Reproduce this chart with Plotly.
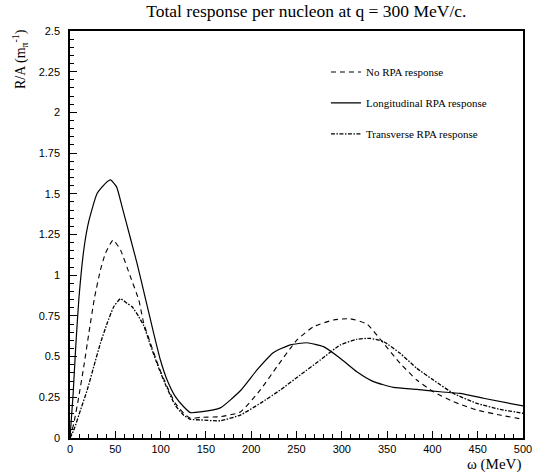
import plotly.graph_objects as go

# --- data ---
norpa_x = [0, 4.2, 9.7, 15.2, 20.8, 27, 33.6, 39.1, 47.6, 55.7, 66.7, 75.9, 81.4, 88.8, 97.9, 107.2,
           116.3, 125.5, 132.9, 143.9, 165.9, 188, 210, 228.4, 250.5, 268.8, 290.9, 309.3, 327.7,
           346, 364.4, 382.8, 401.1, 423.2, 449, 474.6, 500]
norpa_y = [0, 0.09, 0.254, 0.438, 0.643, 0.86, 1.032, 1.134, 1.216, 1.155, 0.99, 0.848, 0.705,
           0.582, 0.438, 0.315, 0.213, 0.152, 0.121, 0.127, 0.131, 0.16, 0.295, 0.438, 0.602,
           0.684, 0.725, 0.732, 0.7, 0.582, 0.459, 0.356, 0.284, 0.223, 0.172, 0.141, 0.115]

long_x = [0, 3.5, 6.1, 9.7, 15.2, 20.7, 30, 39.1, 44.7, 51.3, 57.5, 66.7, 74, 83.2, 92.4, 99.8,
          107.2, 116.3, 125.5, 132.9, 143.9, 165.9, 188, 206.4, 224.7, 243.1, 261.5, 279.8,
          298.2, 316.6, 335, 357, 382.8, 408.5, 430.5, 456.2, 500]
long_y = [0, 0.275, 0.54, 0.848, 1.155, 1.33, 1.503, 1.564, 1.585, 1.544, 1.42, 1.227, 1.073,
          0.858, 0.643, 0.479, 0.356, 0.254, 0.192, 0.156, 0.16, 0.185, 0.29, 0.418, 0.525,
          0.572, 0.585, 0.561, 0.49, 0.407, 0.346, 0.311, 0.299, 0.284, 0.274, 0.244, 0.197]

trans_x = [0, 4.2, 11.6, 19, 26.2, 33.6, 41, 48.3, 55.7, 63, 68.6, 75.9, 81.4, 88.8, 97.9, 107.2,
           116.3, 125.5, 132.9, 143.9, 165.9, 188, 210, 232.1, 254.1, 276.2, 298.2, 316.6, 331.3,
           346, 364.4, 382.8, 401.1, 423.2, 449, 474.6, 500]
trans_y = [0, 0.049, 0.172, 0.295, 0.438, 0.582, 0.705, 0.806, 0.855, 0.827, 0.806, 0.745, 0.69,
           0.57, 0.43, 0.305, 0.2, 0.14, 0.115, 0.111, 0.106, 0.141, 0.213, 0.295, 0.387, 0.479,
           0.571, 0.606, 0.612, 0.592, 0.52, 0.428, 0.356, 0.274, 0.213, 0.176, 0.152]

names = ["No RPA response", "Longitudinal RPA response", "Transverse RPA response"]
x_ticks = [0, 50, 100, 150, 200, 250, 300, 350, 400, 450, 500]
y_ticks = [0, 0.25, 0.5, 0.75, 1, 1.25, 1.5, 1.75, 2, 2.25, 2.5]
y_ticklabels = ["0", "0.25", "0.5", "0.75", "1", "1.25", "1.5", "1.75", "2", "2.25", "2.5"]

serif = "Liberation Serif, Times New Roman, serif"
sans = "Liberation Sans, Arial, sans-serif"

fig = go.Figure()
fig.add_trace(go.Scatter(x=norpa_x, y=norpa_y, mode="lines", name=names[0], legendgroup="a",
                         line=dict(color="black", width=1.1, dash="5px,4px",
                                   shape="spline", smoothing=0.5)))
fig.add_trace(go.Scatter(x=long_x, y=long_y, mode="lines", name=names[1], legendgroup="b",
                         line=dict(color="black", width=1.2, shape="spline", smoothing=0.5)))
fig.add_trace(go.Scatter(x=trans_x, y=trans_y, mode="lines", name=names[2], legendgroup="c",
                         line=dict(color="black", width=1.3, dash="4px,1.5px,1.5px,1.5px",
                                   shape="spline", smoothing=0.5)))

fig.update_layout(
    width=547, height=472,
    margin=dict(l=70, r=24, t=31, b=34),
    plot_bgcolor="white", paper_bgcolor="white",
    showlegend=True,
    legend=dict(x=0.565, y=0.935, xanchor="left", yanchor="top", bgcolor="rgba(0,0,0,0)",
                font=dict(family=serif, size=11, color="black"), tracegroupgap=12,
                itemwidth=30),
    title=dict(text="Total response per nucleon at q = 300 MeV/c.", x=0.56, xanchor="center",
               y=0.976, yanchor="middle", font=dict(family=serif, size=17.5, color="black")),
    xaxis=dict(range=[0, 500], tickvals=x_ticks, ticks="inside", ticklen=7, tickwidth=1,
               tickcolor="black", showline=True, linecolor="black", linewidth=1.5, mirror=True,
               showgrid=False, zeroline=False,
               tickfont=dict(family=sans, size=11, color="black"),
               minor=dict(ticks="inside", dtick=10, ticklen=4, tickcolor="black", showgrid=False)),
    yaxis=dict(range=[0, 2.5], tickvals=y_ticks, ticktext=y_ticklabels, ticks="inside", ticklen=7,
               tickwidth=1, tickcolor="black", showline=True, linecolor="black", linewidth=1.5,
               mirror=True, showgrid=False, zeroline=False, ticklabelstandoff=6,
               tickfont=dict(family=sans, size=11, color="black"),
               minor=dict(ticks="inside", dtick=0.05, ticklen=4, tickcolor="black", showgrid=False)),
    annotations=[
        dict(text="R/A (m<sub>π</sub><sup>-1</sup>)", xref="paper", yref="paper", x=-0.11, y=1.01,
             xanchor="center", yanchor="top", textangle=-90, showarrow=False,
             font=dict(family=serif, size=14, color="black")),
        dict(text="ω (MeV)", xref="paper", yref="paper", x=1.0, y=-0.04, xanchor="right",
             yanchor="top", showarrow=False, font=dict(family=serif, size=15, color="black")),
    ],
)

fig.write_html("out.html", config={"displayModeBar": False},
               post_script="document.body.style.margin='0';")
